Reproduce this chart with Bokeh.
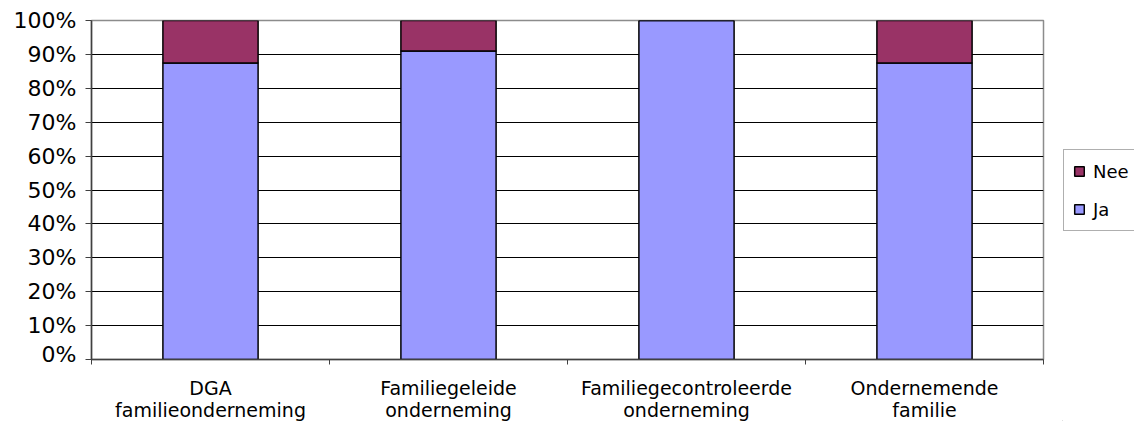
from bokeh.plotting import figure
from bokeh.layouts import row, column
from bokeh.models import (ColumnDataSource, FixedTicker, NumeralTickFormatter,
                          Legend, LegendItem, Range1d)
from bokeh.core.properties import value
from bokeh.embed import file_html
from bokeh.resources import INLINE

# Share of respondents per type of family business
categories = ["DGA\nfamilieonderneming", "Familiegeleide\nonderneming",
              "Familiegecontroleerde\nonderneming", "Ondernemende\nfamilie"]
ja = [0.875, 0.91, 1.00, 0.875]
nee = [0.125, 0.09, 0.00, 0.125]
y_ticks = [0.0, 0.1, 0.2, 0.3, 0.4, 0.5, 0.6, 0.7, 0.8, 0.9, 1.0]
series_labels = ["Ja", "Nee"]

FONT = "DejaVu Sans"
JA_COLOR = "#9999FF"
NEE_COLOR = "#993366"
AXIS_COLOR = "#404040"

x_pos = [i + 0.5 for i in range(len(categories))]
src = ColumnDataSource(dict(x=x_pos, ja=ja, nee=nee))

# main chart: stacked bars
p = figure(width=1062, height=366, output_backend="svg", toolbar_location=None,
           x_range=Range1d(0, len(categories)), y_range=Range1d(0, 1),
           min_border_left=91, min_border_right=19, min_border_top=20,
           min_border_bottom=7)
p.background_fill_color = "white"
p.border_fill_color = "white"
p.outline_line_color = "#8c8c8c"
p.outline_line_width = 1.5

p.vbar_stack(["ja", "nee"], x="x", width=0.4, source=src,
             color=[JA_COLOR, NEE_COLOR], line_color="black", line_width=1.5)

# y axis: percentage ticks with black gridlines
p.yaxis.ticker = FixedTicker(ticks=y_ticks)
p.yaxis.formatter = NumeralTickFormatter(format="0%")
p.yaxis.major_label_text_font = FONT
p.yaxis.major_label_text_font_size = "22px"
p.yaxis.major_label_text_color = "black"
p.yaxis.major_tick_out = 6
p.yaxis.major_tick_in = 0
p.yaxis.major_tick_line_color = AXIS_COLOR
p.yaxis.axis_line_color = AXIS_COLOR
p.yaxis.axis_line_width = 1.5
p.yaxis.minor_tick_line_color = None
p.yaxis.major_label_standoff = 9

p.ygrid.ticker = FixedTicker(ticks=y_ticks[1:-1])
p.ygrid.grid_line_color = "black"
p.ygrid.grid_line_width = 1
p.xgrid.grid_line_color = None

# x axis: tick marks on the category boundaries only
p.xaxis.ticker = FixedTicker(ticks=[],
                             minor_ticks=list(range(len(categories) + 1)))
p.xaxis.major_tick_line_color = None
p.xaxis.major_label_text_font_size = "0px"
p.xaxis.major_label_standoff = 0
p.xaxis.minor_tick_out = 5
p.xaxis.minor_tick_in = 0
p.xaxis.minor_tick_line_color = AXIS_COLOR
p.xaxis.axis_line_color = AXIS_COLOR
p.xaxis.axis_line_width = 1.5

# category names below the bars, on the same x scale
lab = figure(width=1062, height=55, output_backend="svg", toolbar_location=None,
             x_range=p.x_range, y_range=Range1d(55, 0),
             x_axis_location=None, y_axis_location=None,
             min_border_left=91, min_border_right=19, min_border_top=0,
             min_border_bottom=0)
lab.grid.grid_line_color = None
lab.outline_line_color = None
lab.background_fill_color = "white"
lab.border_fill_color = "white"
lab.text(x="x", y=10, text="label",
         source=ColumnDataSource(dict(x=x_pos, label=categories)),
         text_font=value(FONT), text_font_size="19px", text_color="black",
         text_align="center", text_baseline="top", text_line_height=1.0)

# legend panel to the right of the chart
lg = figure(width=72, height=421, output_backend="svg", toolbar_location=None,
            x_range=Range1d(0, 1), y_range=Range1d(0, 1),
            x_axis_location=None, y_axis_location=None,
            min_border_left=0, min_border_right=0, min_border_top=0,
            min_border_bottom=0)
lg.grid.grid_line_color = None
lg.outline_line_color = None
lg.background_fill_color = "white"
lg.border_fill_color = "white"

# keys sit outside the visible range; only their legend swatches show
key_src = ColumnDataSource(dict(x=[-5], top=[0]))
key_ja = lg.vbar(x="x", top="top", width=0.1, source=key_src,
                 fill_color=JA_COLOR, line_color="black", line_width=1.5)
key_nee = lg.vbar(x="x", top="top", width=0.1, source=key_src,
                  fill_color=NEE_COLOR, line_color="black", line_width=1.5)

legend = Legend(items=[LegendItem(label=series_labels[1], renderers=[key_nee]),
                       LegendItem(label=series_labels[0], renderers=[key_ja])],
                location=(1, 190))
legend.label_text_font = FONT
legend.label_text_font_size = "18px"
legend.label_text_color = "black"
legend.glyph_width = 12
legend.glyph_height = 12
legend.label_height = 24
legend.spacing = 14
legend.padding = 9
legend.margin = 0
legend.label_standoff = 8
legend.border_line_color = "#606060"
legend.border_line_width = 1
legend.background_fill_alpha = 1
lg.add_layout(legend)

open("out.html", "w").write(file_html(row(column(p, lab), lg), INLINE))
